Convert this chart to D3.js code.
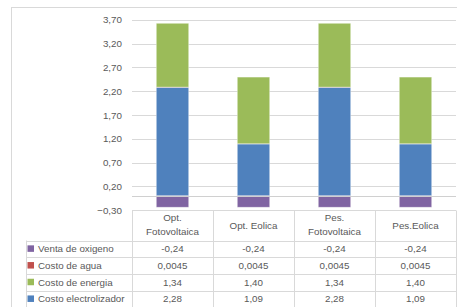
<!DOCTYPE html>
<html><head><meta charset="utf-8">
<script src="https://cdn.jsdelivr.net/npm/d3@7"></script>
<style>body{margin:0;background:#fff;} svg{display:block;}</style>
</head><body>
<svg id="c" width="457" height="307"></svg>
<script>
const categories = [["Opt.","Fotovoltaica"],["Opt. Eolica"],["Pes.","Fotovoltaica"],["Pes.Eolica"]];
const seriesNames = ["Venta de oxigeno","Costo de agua","Costo de energia","Costo electrolizador"];
const ventaOxigeno = [-0.24,-0.24,-0.24,-0.24];
const costoAgua = [0.0045,0.0045,0.0045,0.0045];
const costoEnergia = [1.34,1.40,1.34,1.40];
const costoElectrolizador = [2.28,1.09,2.28,1.09];
const tableLabels = [["-0,24","-0,24","-0,24","-0,24"],["0,0045","0,0045","0,0045","0,0045"],["1,34","1,40","1,34","1,40"],["2,28","1,09","2,28","1,09"]];
const yTicks = [-0.30,0.20,0.70,1.20,1.70,2.20,2.70,3.20,3.70];
const colors = {"Venta de oxigeno":"#8064A2","Costo de agua":"#C0504D","Costo de energia":"#9BBB59","Costo electrolizador":"#4F81BD"};

const svg = d3.select("#c");
const font = "Liberation Sans, Arial, sans-serif";
const fs = "9.8px";
const txt = "#595959", grid = "#d9d9d9";
const L = 132, R = 456, T = 19.7, B = 210.1;

// outer border
svg.append("rect").attr("x",11.5).attr("y",7.5).attr("width",460).attr("height",320)
  .attr("fill","none").attr("stroke","#d9d9d9");

const x = d3.scaleBand().domain(d3.range(categories.length)).range([L,R]).paddingInner(0.6).paddingOuter(0.3);
const xc = d3.scaleBand().domain(d3.range(categories.length)).range([L,R]);
const y = d3.scaleLinear().domain([-0.3,3.7]).range([B,T]);

// gridlines
svg.append("g").selectAll("line").data(yTicks.slice(1)).join("line")
  .attr("x1",L).attr("x2",R).attr("y1",d=>Math.round(y(d))+0.5).attr("y2",d=>Math.round(y(d))+0.5)
  .attr("stroke",grid).attr("stroke-width",1);

// y axis labels
const yAxis = d3.axisLeft(y).tickValues(yTicks).tickSize(0).tickPadding(0)
  .tickFormat(d=>d3.format(".2f")(d).replace(".",","));
const ga = svg.append("g").attr("transform",`translate(122,0)`).call(yAxis);
ga.select(".domain").remove();
ga.selectAll("text").attr("fill",txt).attr("font-family",font).attr("font-size",fs);

// stacked bars
const pos = [ ["Costo electrolizador",costoElectrolizador],["Costo de agua",costoAgua],["Costo de energia",costoEnergia] ];
categories.forEach((c,i)=>{
  let base = 0;
  pos.forEach(([n,arr])=>{
    const v = arr[i];
    svg.append("rect").attr("x",x(i)).attr("width",x.bandwidth())
      .attr("y",y(base+v)).attr("height",y(base)-y(base+v))
      .attr("fill",colors[n]).attr("stroke","#fff").attr("stroke-opacity",0.45).attr("stroke-width",0.8);
    base += v;
  });
  const v = ventaOxigeno[i];
  svg.append("rect").attr("x",x(i)).attr("width",x.bandwidth())
    .attr("y",y(0)).attr("height",y(v)-y(0))
    .attr("fill",colors["Venta de oxigeno"]).attr("stroke","#fff").attr("stroke-opacity",0.45).attr("stroke-width",0.8);
});

// zero axis line
svg.append("line").attr("x1",L).attr("x2",R).attr("y1",Math.round(y(0))+0.5).attr("y2",Math.round(y(0))+0.5)
  .attr("stroke","#d0d0d0");

// data table
const tTop = 210.5, hdrB = 240.5, rowH = 16.7, LL = 26.5;
const tg = svg.append("g");
tg.append("line").attr("x1",L).attr("x2",R).attr("y1",tTop).attr("y2",tTop).attr("stroke",grid);
for(let r=0;r<4;r++){
  const yy = hdrB + r*rowH;
  tg.append("line").attr("x1",LL).attr("x2",R).attr("y1",Math.round(yy)+0.5).attr("y2",Math.round(yy)+0.5).attr("stroke",grid);
}
tg.append("line").attr("x1",LL).attr("x2",LL).attr("y1",hdrB).attr("y2",307).attr("stroke",grid);
d3.range(categories.length+1).forEach(i=>{
  const xx = Math.round(L + i*xc.bandwidth())+0.5;
  tg.append("line").attr("x1",xx).attr("x2",xx).attr("y1",tTop).attr("y2",307).attr("stroke",grid);
});
// header
categories.forEach((c,i)=>{
  const cx = xc(i)+xc.bandwidth()/2;
  const t = tg.append("text").attr("x",cx).attr("text-anchor","middle").attr("fill",txt)
    .attr("font-family",font).attr("font-size",fs);
  if(c.length===2){
    t.append("tspan").attr("x",cx).attr("y",220.5).text(c[0]);
    t.append("tspan").attr("x",cx).attr("y",235).text(c[1]);
  } else {
    t.attr("y",228.5).text(c[0]);
  }
});
// rows
seriesNames.forEach((n,r)=>{
  const cy = hdrB + r*rowH + rowH/2;
  tg.append("rect").attr("x",27.5).attr("y",cy-3.5).attr("width",6.5).attr("height",6.5).attr("fill",colors[n]);
  tg.append("text").attr("x",38).attr("y",cy+3.5).attr("fill",txt).attr("font-family",font).attr("font-size",fs).text(n);
  tableLabels[r].forEach((lab,i)=>{
    tg.append("text").attr("x",xc(i)+xc.bandwidth()/2).attr("y",cy+3.5).attr("text-anchor","middle")
      .attr("fill",txt).attr("font-family",font).attr("font-size",fs).text(lab);
  });
});
</script>
</body></html>
